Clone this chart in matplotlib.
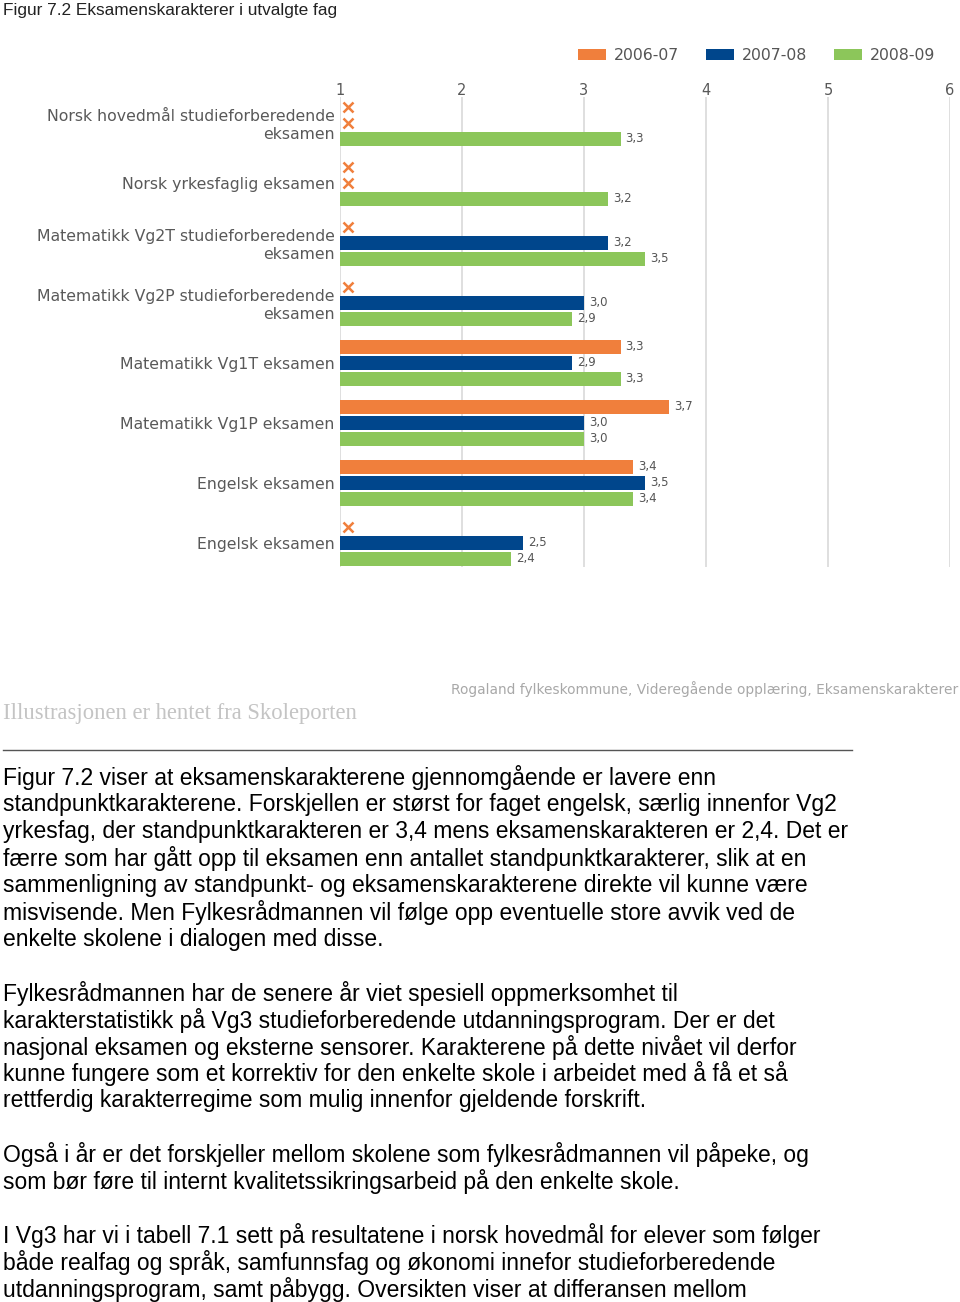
import numpy as np
import matplotlib
matplotlib.use('Agg')
import matplotlib.pyplot as plt
from matplotlib.lines import Line2D

# data
categories = ["Norsk hovedmål studieforberedende\neksamen",
              "Norsk yrkesfaglig eksamen",
              "Matematikk Vg2T studieforberedende\neksamen",
              "Matematikk Vg2P studieforberedende\neksamen",
              "Matematikk Vg1T eksamen",
              "Matematikk Vg1P eksamen",
              "Engelsk eksamen",
              "Engelsk eksamen"]
years = ["2006-07", "2007-08", "2008-09"]
v_0607 = [np.nan, np.nan, np.nan, np.nan, 3.3, 3.7, 3.4, np.nan]
v_0708 = [np.nan, np.nan, 3.2, 3.0, 2.9, 3.0, 3.5, 2.5]
v_0809 = [3.3, 3.2, 3.5, 2.9, 3.3, 3.0, 3.4, 2.4]
x_ticks = [1, 2, 3, 4, 5, 6]

colors = ["#F07F3C", "#00468C", "#8CC65A"]
W, H = 960, 1302

fig = plt.figure(figsize=(W / 100, H / 100), dpi=100)

def fx(x):
    return x / W

def fy(y):
    return 1 - y / H

# chart area
ax = fig.add_axes([fx(340), fy(567), fx(610), 470 / H])
y = np.arange(len(categories))
offsets = [-16 / 60, 0, 16 / 60]
bh = 14 / 60
handles = []
for vals, off, c, lab in zip([v_0607, v_0708, v_0809], offsets, colors, years):
    vals = np.array(vals, dtype=float)
    ok = ~np.isnan(vals)
    b = ax.barh(y[ok] + off, vals[ok] - 1, left=1, height=bh, color=c, label=lab, zorder=3)
    handles.append(b)
    for yi, v in zip(y[ok] + off, vals[ok]):
        ax.text(v + 0.04, yi, f"{v:.1f}".replace('.', ','), va='center', ha='left',
                fontsize=8.5, color='#555555', zorder=4)
    # missing values -> orange cross at axis
    for yi in y[~ok] + off:
        ax.plot(1.065, yi, marker='x', color=colors[0], ms=6.5, mew=1.8, zorder=4)

ax.set_xlim(1, 6)
ax.set_ylim(7.4, -0.433)
ax.set_xticks(x_ticks)
ax.xaxis.tick_top()
ax.set_yticks(y, categories)
ax.tick_params(length=0, labelcolor='#595959')
ax.tick_params(axis='x', pad=-1, labelsize=10.5)
ax.tick_params(axis='y', pad=4, labelsize=11.3)
ax.grid(axis='x', color='#d9d9d9', lw=1.2, zorder=0)
for s in ax.spines.values():
    s.set_visible(False)

fig.legend(handles=handles, loc='upper left', bbox_to_anchor=(fx(564), fy(34)), ncol=3,
           frameon=False, fontsize=11.3, handlelength=1.75, handleheight=0.75,
           handletextpad=0.5, columnspacing=1.75, labelcolor='#555555')

fig.text(fx(3), fy(10), "Figur 7.2 Eksamenskarakterer i utvalgte fag", fontsize=12.4,
         family='Liberation Sans', va='center', ha='left', color='#222222')
fig.text(fx(3), fy(713), "Illustrasjonen er hentet fra Skoleporten", fontsize=16.3,
         family='Liberation Serif', va='center', ha='left', color='#c4c4c4')
fig.text(fx(958), fy(689), "Rogaland fylkeskommune, Videregående opplæring, Eksamenskarakterer",
         fontsize=9.9, va='center', ha='right', color='#a8a8a8')

fig.add_artist(Line2D([fx(3), fx(852)], [fy(750), fy(750)], color='#555555', lw=1))

body = ["Figur 7.2 viser at eksamenskarakterene gjennomgående er lavere enn",
        "standpunktkarakterene. Forskjellen er størst for faget engelsk, særlig innenfor Vg2",
        "yrkesfag, der standpunktkarakteren er 3,4 mens eksamenskarakteren er 2,4. Det er",
        "færre som har gått opp til eksamen enn antallet standpunktkarakterer, slik at en",
        "sammenligning av standpunkt- og eksamenskarakterene direkte vil kunne være",
        "misvisende. Men Fylkesrådmannen vil følge opp eventuelle store avvik ved de",
        "enkelte skolene i dialogen med disse.",
        "",
        "Fylkesrådmannen har de senere år viet spesiell oppmerksomhet til",
        "karakterstatistikk på Vg3 studieforberedende utdanningsprogram. Der er det",
        "nasjonal eksamen og eksterne sensorer. Karakterene på dette nivået vil derfor",
        "kunne fungere som et korrektiv for den enkelte skole i arbeidet med å få et så",
        "rettferdig karakterregime som mulig innenfor gjeldende forskrift.",
        "",
        "Også i år er det forskjeller mellom skolene som fylkesrådmannen vil påpeke, og",
        "som bør føre til internt kvalitetssikringsarbeid på den enkelte skole.",
        "",
        "I Vg3 har vi i tabell 7.1 sett på resultatene i norsk hovedmål for elever som følger",
        "både realfag og språk, samfunnsfag og økonomi innefor studieforberedende",
        "utdanningsprogram, samt påbygg. Oversikten viser at differansen mellom"]
for i, line in enumerate(body):
    fig.text(fx(3), fy(778 + i * 26.9), line, fontsize=16.5, family='Liberation Sans',
             va='center', ha='left', color='black')

fig.savefig('out.png', dpi=100)
